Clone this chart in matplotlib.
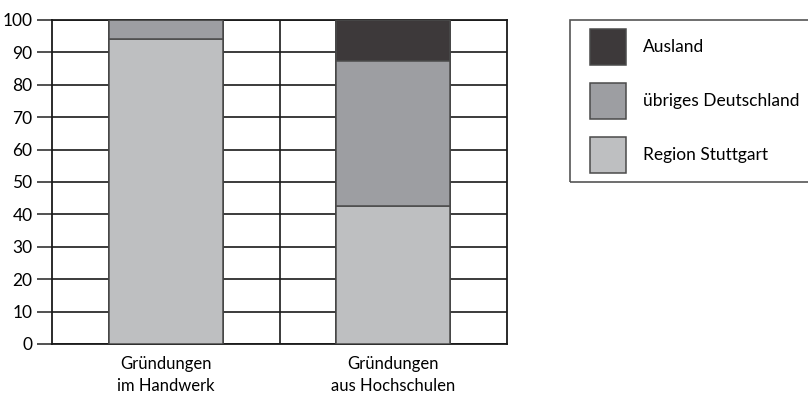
import numpy as np
import matplotlib
matplotlib.use("Agg")
from matplotlib import pyplot as plt
from matplotlib.patches import Rectangle

plt.rcParams['font.family'] = ['Lato', 'DejaVu Sans']

categories = ["Gründungen\nim Handwerk", "Gründungen\naus Hochschulen"]
region_stuttgart = [94.0, 42.5]
uebriges_de = [6.0, 45.0]
ausland = [0.0, 12.5]
series_labels = ["Region Stuttgart", "übriges Deutschland", "Ausland"]
colors = ["#bebfc1", "#9d9ea2", "#3d393a"]

fig = plt.figure(figsize=(8.08, 3.99), dpi=100)
ax = fig.add_axes([52/808, 1-344/399, 455/808, 324/399])

x = np.arange(len(categories))
bottom = np.zeros(len(categories))
bars = []
for vals, lab, col in zip([region_stuttgart, uebriges_de, ausland], series_labels, colors):
    b = ax.bar(x, vals, width=0.5, bottom=bottom, color=col, edgecolor="#4a4a4a",
               linewidth=1.1, label=lab, zorder=3)
    bars.append(b)
    bottom += np.array(vals)

ax.set_xlim(-0.5, 1.5)
ax.set_ylim(0, 100)
ax.set_yticks(range(0, 101, 10))
ax.set_xticks(x)
ax.set_xticklabels(categories, fontsize=12, linespacing=1.4)
ax.set_xticks(np.arange(-0.25, 1.5, 0.25), minor=True)
ax.tick_params(axis="x", which="both", length=0, pad=9)
ax.tick_params(axis="y", length=11, width=1.1, color="#222222", pad=3, labelsize=12.5)
ax.grid(axis="y", color="#1a1a1a", linewidth=1.2, zorder=0)
ax.grid(axis="x", which="minor", color="#1a1a1a", linewidth=1.2, zorder=0)
for s in ax.spines.values():
    s.set_color("#1a1a1a")
    s.set_linewidth(1.3)

# legend box runs off the right edge
fig.patches.append(Rectangle((570/808, 1-182/399), 260/808, 162/399,
                             transform=fig.transFigure, fill=False,
                             edgecolor="#555555", linewidth=1.2))
fs = 12.5 * 100 / 72
handles = [bars[2], bars[1], bars[0]]
labels = [series_labels[2], series_labels[1], series_labels[0]]
fig.legend(handles, labels, loc="upper left", bbox_to_anchor=(590/808, 1-29/399),
           frameon=False, fontsize=12.5, borderpad=0, borderaxespad=0,
           handlelength=36/fs, handleheight=38/fs + 0.6, labelspacing=18.5/fs,
           handletextpad=17/fs)

fig.savefig("out.png", dpi=100)
